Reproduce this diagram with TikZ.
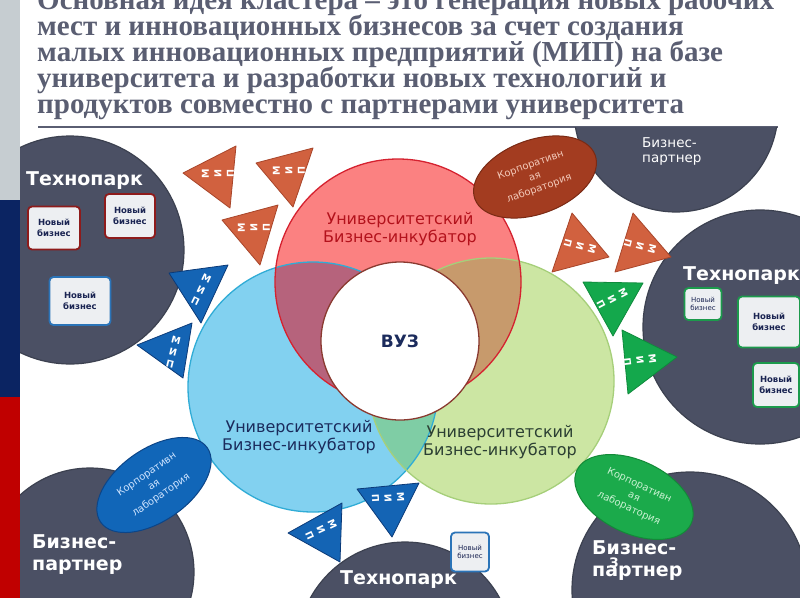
\documentclass[tikz,border=0pt]{standalone}
\usepackage{fontspec}
\setmainfont{DejaVu Sans}
\newfontfamily\headfont{Liberation Serif}
\usetikzlibrary{shapes.geometric}
\definecolor{headink}{HTML}{5A5E72}
\definecolor{stripgray}{HTML}{C6CDD1}
\definecolor{stripnavy}{HTML}{0B2462}
\definecolor{stripred}{HTML}{C00000}
\definecolor{slate}{HTML}{4B5064}
\definecolor{slateline}{HTML}{3C4150}
\definecolor{cred}{HTML}{FB8181}
\definecolor{credline}{HTML}{D52230}
\definecolor{cblue}{HTML}{82D1F0}
\definecolor{cblueline}{HTML}{30ACD6}
\definecolor{cgreen}{HTML}{CCE6A3}
\definecolor{cgreenline}{HTML}{A6CF7A}
\definecolor{mauve}{HTML}{B6637C}
\definecolor{tan}{HTML}{C79A6C}
\definecolor{mint}{HTML}{7FCDA5}
\definecolor{vuzline}{HTML}{8A3A30}
\definecolor{labred}{HTML}{B3121C}
\definecolor{labnavy}{HTML}{1B2B5C}
\definecolor{labgreen}{HTML}{2B3F33}
\definecolor{mipred}{HTML}{D1613F}
\definecolor{mipredline}{HTML}{A8452A}
\definecolor{mipblue}{HTML}{1464B4}
\definecolor{mipblueline}{HTML}{0B3A78}
\definecolor{mipgreen}{HTML}{14A84C}
\definecolor{mipgreenline}{HTML}{0F8A3C}
\definecolor{corpbrown}{HTML}{A33C20}
\definecolor{corpbrownline}{HTML}{7A2A14}
\definecolor{corpbrowntext}{HTML}{F3C9B9}
\definecolor{corpblue}{HTML}{1166B8}
\definecolor{corpblueline}{HTML}{0C4588}
\definecolor{corpbluetext}{HTML}{CFE4FF}
\definecolor{corpgreen}{HTML}{1BAA4B}
\definecolor{corpgreenline}{HTML}{138A38}
\definecolor{corpgreentext}{HTML}{C9F2D2}
\definecolor{bizfill}{HTML}{EDEFF2}
\definecolor{bizink}{HTML}{1A2452}
\definecolor{bizred}{HTML}{8E1B1B}
\definecolor{bizblue}{HTML}{2B74B8}
\definecolor{bizgreen}{HTML}{1C9A4C}

\begin{document}
\begin{tikzpicture}[x=1pt, y=-1pt,
  head/.style={anchor=base west, inner sep=0pt, text=headink, font=\headfont\bfseries\fontsize{29}{30}\selectfont},
  park/.style={fill=slate, draw=slateline, line width=1.2pt},
  parklabel/.style={text=white, inner sep=0pt, align=left, font=\bfseries\fontsize{19}{22}\selectfont},
  venn/.style={draw=#1line, line width=1.3pt},
  vennlabel/.style={text=#1, inner sep=0pt, align=center, font=\fontsize{16}{18.5}\selectfont},
  corp/.style={ellipse, fill=#1, draw=#1line, line width=1pt, text=#1text, inner sep=0pt, align=center, font=\fontsize{10}{12.5}\selectfont},
  mip/.style={fill=#1, draw=#1line, line width=0.8pt, line join=round},
  miptext/.style={text=white, inner sep=0pt, align=center, font=\bfseries\fontsize{9.5}{12.5}\selectfont},
  newbiz/.style={draw=#1, fill=bizfill, line width=1.8pt, rounded corners=4pt, inner sep=0pt, text=bizink, align=center, font=\bfseries\fontsize{8.5}{10.5}\selectfont},
  smallbiz/.style={font=\fontsize{7}{8.5}\selectfont}
]
  \useasboundingbox (0,0) rectangle (800,600);
  \fill[white] (0,0) rectangle (800,600);
  \fill[stripgray] (0,0) rectangle (20,200);
  \fill[stripnavy] (0,200) rectangle (20,397);
  \fill[stripred] (0,397) rectangle (20,598);

  \foreach \txt [count=\i] in {Основная идея кластера – это генерация новых рабочих,
      мест и инновационных бизнесов за счет создания,
      малых инновационных предприятий (МИП) на базе,
      университета и разработки новых технологий и,
      продуктов совместно  с партнерами университета}
    \node[head] (head\i) at (37,{9+26*(\i-1)}) {\txt};
  \draw[headink, line width=1.5pt] (38,127) -- (778,127);

  \begin{scope}
    \clip (20,127) rectangle (800,597);
    \fill[park] (70,250) circle[radius=114];
    \fill[park] (676,110) circle[radius=102];
    \fill[park] (760,327) circle[radius=117];
    \fill[park] (90,572) circle[radius=104];
    \fill[park] (405,650) circle[radius=108];
    \fill[park] (690,590) circle[radius=118];

    \coordinate (incR) at (398,282);
    \coordinate (incB) at (313,387);
    \coordinate (incG) at (491,381);
    \fill[cblue] (incB) circle[radius=125];
    \fill[cgreen] (incG) circle[radius=123];
    \fill[cred] (incR) circle[radius=123];
    \begin{scope}
      \clip (incB) circle[radius=125];
      \fill[mint] (incG) circle[radius=123];
    \end{scope}
    \begin{scope}
      \clip (incR) circle[radius=123];
      \fill[mauve] (incB) circle[radius=125];
      \fill[tan] (incG) circle[radius=123];
    \end{scope}
    \draw[venn=cblue] (incB) circle[radius=125];
    \draw[venn=cgreen] (incG) circle[radius=123];
    \draw[venn=cred] (incR) circle[radius=123];

    \node[circle, fill=white, draw=vuzline, line width=1.3pt, minimum size=158pt, inner sep=0pt,
      text=labnavy, font=\bfseries\fontsize{17}{20}\selectfont] (vuz) at (400,341) {ВУЗ};

    \node[vennlabel=labred] (incRtext) at (400,229) {Университетский\\Бизнес-инкубатор};
    \node[vennlabel=labnavy] (incBtext) at (299,437) {Университетский\\Бизнес-инкубатор};
    \node[vennlabel=labgreen] (incGtext) at (500,442) {Университетский\\Бизнес-инкубатор};

    \node[corp=corpbrown, rotate=20, minimum width=128pt, minimum height=74pt] (corpA) at (535,177) {Корпоративн\\ая\\лаборатория};
    \node[corp=corpblue, rotate=35, minimum width=130pt, minimum height=72pt] (corpB) at (154,485) {Корпоративн\\ая\\лаборатория};
    \node[corp=corpgreen, rotate=-25, minimum width=126pt, minimum height=73pt] (corpC) at (634,497) {Корпоративн\\ая\\лаборатория};

    \draw[mip=mipred] (183,173) -- (236,146) -- (230,208) -- cycle;
    \node[miptext, rotate=90] (mipA) at (218,174) {М\\И\\П};
    \draw[mip=mipred] (256,163) -- (313,148) -- (293,207) -- cycle;
    \node[miptext, rotate=90] (mipB) at (289,171) {М\\И\\П};
    \draw[mip=mipred] (222,220) -- (278,205) -- (260,265) -- cycle;
    \node[miptext, rotate=90] (mipC) at (254,228) {М\\И\\П};
    \draw[mip=mipred] (572,213) -- (609,257) -- (552,272) -- cycle;
    \node[miptext, rotate=-105] (mipD) at (580,246) {М\\И\\П};
    \draw[mip=mipred] (633,213) -- (671,257) -- (615,272) -- cycle;
    \node[miptext, rotate=-105] (mipE) at (640,246) {М\\И\\П};
    \draw[mip=mipgreen] (583,282) -- (643,283) -- (613,336) -- cycle;
    \node[miptext, rotate=-62] (mipF) at (612,299) {М\\И\\П};
    \draw[mip=mipgreen] (622,330) -- (677,357) -- (628,394) -- cycle;
    \node[miptext, rotate=-83] (mipG) at (640,360) {М\\И\\П};
    \draw[mip=mipblue] (169,273) -- (228,265) -- (201,323) -- cycle;
    \node[miptext, rotate=-26] (mipH) at (201,290) {М\\И\\П};
    \draw[mip=mipblue] (137,345) -- (192,323) -- (183,378) -- cycle;
    \node[miptext, rotate=-14] (mipI) at (173,352) {М\\И\\П};
    \draw[mip=mipblue] (357,489) -- (419,483) -- (392,537) -- cycle;
    \node[miptext, rotate=-87] (mipJ) at (388,498) {М\\И\\П};
    \draw[mip=mipblue] (288,533) -- (342,503) -- (340,562) -- cycle;
    \node[miptext, rotate=-65] (mipK) at (321,530) {М\\И\\П};

    \node[newbiz=bizred, minimum width=52pt, minimum height=43pt] (bizA) at (54,228) {Новый\\бизнес};
    \node[newbiz=bizred, minimum width=50pt, minimum height=44pt] (bizB) at (130,216) {Новый\\бизнес};
    \node[newbiz=bizblue, minimum width=61pt, minimum height=48pt] (bizC) at (80,301) {Новый\\бизнес};
    \node[newbiz=bizgreen, smallbiz, minimum width=37pt, minimum height=32pt] (bizD) at (703,304) {Новый\\бизнес};
    \node[newbiz=bizgreen, minimum width=62pt, minimum height=51pt] (bizE) at (769,322) {Новый\\бизнес};
    \node[newbiz=bizgreen, minimum width=46pt, minimum height=44pt] (bizF) at (776,385) {Новый\\бизнес};
    \node[newbiz=bizblue, smallbiz, minimum width=38pt, minimum height=39pt] (bizG) at (470,552) {Новый\\бизнес};

    \node[parklabel, anchor=base west] (parkA) at (26,185) {Технопарк};
    \node[parklabel, anchor=base west] (parkB) at (683,280) {Технопарк};
    \node[parklabel, anchor=base west] (parkC) at (340,584) {Технопарк};
    \node[parklabel, anchor=north west, font=\fontsize{13.5}{15}\selectfont] (partA) at (642,137) {Бизнес-\\партнер};
    \node[parklabel, anchor=north west] (partB) at (32,534) {Бизнес-\\партнер};
    \node[text=white, inner sep=0pt, font=\bfseries\fontsize{13}{15}\selectfont] (partCz) at (614,563) {З};
    \node[parklabel, anchor=north west] (partC) at (592,540) {Бизнес-\\партнер};
  \end{scope}
\end{tikzpicture}
\end{document}
